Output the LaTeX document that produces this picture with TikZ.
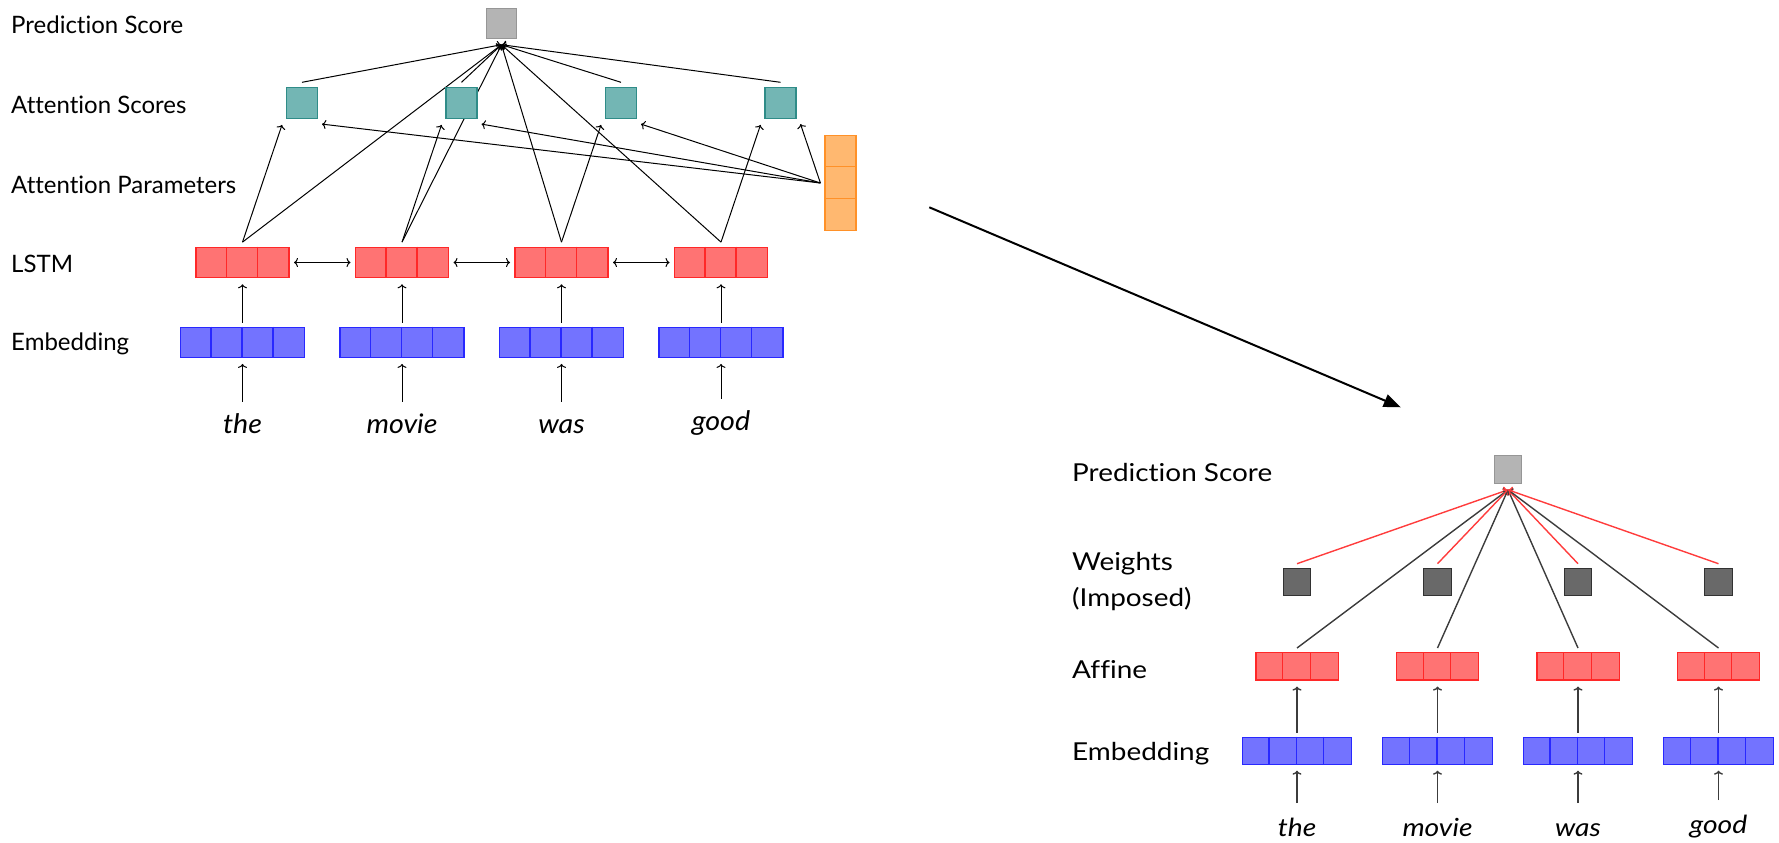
\documentclass[tikz,border=0pt]{standalone}
\usepackage{fontspec}
\setmainfont{Lato}[Ligatures={NoCommon}]
\newfontfamily\rfont[FakeStretch=1.13,Ligatures={NoCommon}]{Lato}
\newfontfamily\lwfont[FakeStretch=1.06,Ligatures={NoCommon}]{Lato}
\usetikzlibrary{arrows.meta,backgrounds}
\definecolor{tealF}{RGB}{115,182,180}
\definecolor{tealD}{RGB}{47,140,136}
\definecolor{grayF}{RGB}{180,180,180}
\definecolor{grayD}{RGB}{150,150,150}
\definecolor{redF}{RGB}{255,115,115}
\definecolor{redD}{RGB}{255,40,40}
\definecolor{blueF}{RGB}{115,115,255}
\definecolor{blueD}{RGB}{40,40,255}
\definecolor{orF}{RGB}{255,184,112}
\definecolor{orD}{RGB}{255,145,40}
\definecolor{darkF}{RGB}{105,105,105}
\definecolor{darkD}{RGB}{50,50,50}
\definecolor{lineG}{RGB}{60,60,60}
\definecolor{lineR}{RGB}{255,60,60}
\tikzset{
  box/.style={draw, inner sep=0pt, line width=0.6pt},
  tealbox/.style={box, draw=tealD, fill=tealF, minimum width=15.5pt, minimum height=15.5pt},
  lgray/.style={box, draw=grayD, fill=grayF, minimum width=15.3pt, minimum height=15pt},
  lstm/.style={box, draw=redD, fill=redF, minimum width=46.5pt, minimum height=15.2pt},
  lemb/.style={box, draw=blueD, fill=blueF, minimum width=62pt, minimum height=15.2pt},
  orng/.style={box, draw=orD, fill=orF, minimum width=15.5pt, minimum height=47.2pt},
  rgray/.style={box, draw=grayD, fill=grayF, minimum width=13.7pt, minimum height=13.7pt},
  dark/.style={box, draw=darkD, fill=darkF, minimum width=13.7pt, minimum height=13.7pt},
  aff/.style={box, draw=redD, fill=redF, minimum width=41.1pt, minimum height=13.7pt},
  remb/.style={box, draw=blueD, fill=blueF, minimum width=54.8pt, minimum height=13.7pt},
  lbl/.style={anchor=base west, inner sep=0pt, font=\fontsize{12pt}{14pt}\selectfont},
  rlbl/.style={anchor=base west, inner sep=0pt, font=\rfont\fontsize{12.35pt}{18pt}\selectfont},
  lword/.style={anchor=base, inner xsep=0pt, inner ysep=5.5pt, text height=10pt, font=\lwfont\itshape\fontsize{13.5pt}{16pt}\selectfont},
  rword/.style={anchor=base, inner xsep=0pt, inner ysep=7pt, text height=9.5pt, font=\rfont\itshape\fontsize{12.5pt}{15pt}\selectfont},
  thinarrow/.style={line width=0.5pt, -{To[length=2pt,width=4.5pt]}},
  garrow/.style={line width=0.7pt, draw=lineG, -{To[length=2pt,width=4.5pt]}},
  rarrow/.style={line width=0.7pt, draw=lineR, -{To[length=2pt,width=4.5pt]}},
}
\begin{document}
\begin{tikzpicture}[x=0.5pt,y=-0.5pt]
\useasboundingbox (0,0) rectangle (1779,842);

% ---------- left diagram ----------
\node[lbl] (lab1) at (10.8,33.3) {Prediction Score};
\node[lbl] (lab2) at (10.8,113.3) {Attention Scores};
\node[lbl] (lab3) at (10.8,193.3) {Attention Parameters};
\node[lbl] (lab4) at (10.8,272.7) {LSTM};
\node[lbl] (lab5) at (10.8,350.7) {Embedding};

\node[lgray] (pl) at (501.5,23.3) {};
\node[orng] (op) at (840.5,183) {};
\foreach \k in {1,2} \draw[orD, line width=0.6pt] ([yshift=-\k*15.73pt]op.north west) -- ([yshift=-\k*15.73pt]op.north east);

\foreach \i/\x/\w/\b in {1/242.5/the/433, 2/402/movie/433, 3/561.5/was/433, 4/721/good/430} {
  \node[lstm] (l\i) at (\x,262.5) {};
  \foreach \k in {1,2} \draw[redD, line width=0.6pt] ([xshift=\k*15.5pt]l\i.north west) -- ([xshift=\k*15.5pt]l\i.south west);
  \node[lemb] (e\i) at (\x,342.5) {};
  \foreach \k in {1,2,3} \draw[blueD, line width=0.6pt] ([xshift=\k*15.5pt]e\i.north west) -- ([xshift=\k*15.5pt]e\i.south west);
  \node[tealbox] (t\i) at (\x+59.5,103.2) {};
  \node[lword] (w\i) at (\x,\b) {\w};
}

\begin{pgfonlayer}{background}
\foreach \i in {1,...,4} {
  \draw[thinarrow] ([yshift=2pt]e\i.north) -- ([yshift=-3pt]l\i.south);
  \draw[thinarrow] (w\i.north) -- ([yshift=-2.8pt]e\i.south);
  \draw[thinarrow] ([yshift=2.3pt]l\i.north) -- ([xshift=-10pt,yshift=-2.8pt]t\i.south);
  \draw[thinarrow] ([xshift=-2pt]op.west) -- ([xshift=10pt,yshift=-2.4pt]t\i.south);
  \draw[thinarrow] ([yshift=2.4pt]t\i.north) -- ([yshift=-2.9pt]pl.south);
  \draw[thinarrow] ([yshift=2.3pt]l\i.north) -- ([yshift=-2.9pt]pl.south);
}
\foreach \i/\j in {1/2,2/3,3/4}
  \draw[line width=0.5pt, {To[length=2pt,width=4.5pt]}-{To[length=2pt,width=4.5pt]}] ([xshift=2.2pt]l\i.east) -- ([xshift=-2.2pt]l\j.west);
\end{pgfonlayer}

% ---------- big arrow ----------
\coordinate (bs) at (929.3,207.3);
\coordinate (be) at (1400.7,407.3);
\draw[line width=1pt, -{Triangle[length=8.5pt,width=6.5pt]}] (bs) -- (be);

% ---------- right diagram ----------
\node[rlbl] (rl1) at (1071.8,481.7) {Prediction Score};
\node[rlbl] (rl2a) at (1071.8,570.7) {Weights};
\node[rlbl] (rl2b) at (1071.8,606.7) {(Imposed)};
\node[rlbl] (rl3) at (1071.8,678.3) {Affine};
\node[rlbl] (rl4) at (1071.8,760) {Embedding};

\node[rgray] (pr) at (1508,469.5) {};

\foreach \i/\x/\w/\b in {1/1297/the/836.5, 2/1437.5/movie/836.5, 3/1578/was/836.5, 4/1718.5/good/833.5} {
  \node[dark] (d\i) at (\x,582) {};
  \node[aff] (a\i) at (\x,666.3) {};
  \foreach \k in {1,2} \draw[redD, line width=0.6pt] ([xshift=\k*13.7pt]a\i.north west) -- ([xshift=\k*13.7pt]a\i.south west);
  \node[remb] (r\i) at (\x,750.8) {};
  \foreach \k in {1,2,3} \draw[blueD, line width=0.6pt] ([xshift=\k*13.7pt]r\i.north west) -- ([xshift=\k*13.7pt]r\i.south west);
  \node[rword] (v\i) at (\x,\b) {\w};
}

\begin{pgfonlayer}{background}
\foreach \i in {1,...,4} {
  \draw[garrow] ([yshift=2pt]a\i.north) -- ([yshift=-3pt]pr.south);
  \draw[rarrow] ([yshift=2pt]d\i.north) -- ([yshift=-3pt]pr.south);
  \draw[garrow] ([yshift=2pt]r\i.north) -- ([yshift=-3pt]a\i.south);
  \draw[garrow] (v\i.north) -- ([yshift=-2.8pt]r\i.south);
}
\end{pgfonlayer}
\end{tikzpicture}
\end{document}
